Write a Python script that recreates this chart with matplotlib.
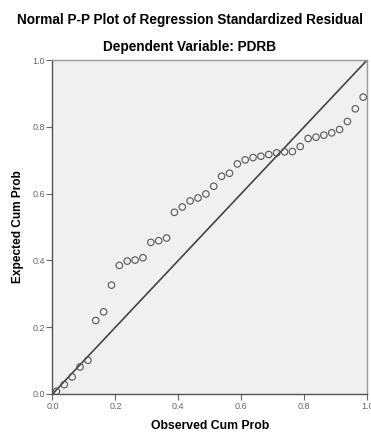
import numpy as np
import matplotlib
matplotlib.use("Agg")
import matplotlib.pyplot as plt

# Normal P-P plot, 40 residuals, observed cum prob = (i - 0.5) / n
n_obs = 40
observed = (np.arange(1, n_obs + 1) - 0.5) / n_obs

expected = [
    0.008, 0.028, 0.051, 0.081, 0.101, 0.220, 0.246, 0.326, 0.385, 0.398,
    0.401, 0.408, 0.454, 0.459, 0.467, 0.544, 0.560, 0.578, 0.587, 0.599,
    0.622, 0.652, 0.661, 0.689, 0.701, 0.708, 0.712, 0.717, 0.722, 0.725,
    0.726, 0.741, 0.765, 0.769, 0.775, 0.782, 0.792, 0.816, 0.854, 0.889,
]

ticks = [0.0, 0.2, 0.4, 0.6, 0.8, 1.0]
tick_labels = ["0.0", "0.2", "0.4", "0.6", "0.8", "1.0"]

plt.rcParams["font.family"] = ["Liberation Sans", "DejaVu Sans"]

fig = plt.figure(figsize=(3.71, 4.32), dpi=100)
ax = fig.add_axes([0.1415, 0.088, 0.848, 0.773])
ax.set_facecolor("#f0f0f0")

ax.plot([0, 1], [0, 1], color="#444444", linewidth=1.2, zorder=2)
ax.scatter(observed, expected, s=22, facecolors="none", edgecolors="#555555",
           linewidths=0.8, zorder=3)

ax.set_xlim(0, 1)
ax.set_ylim(0, 1)
ax.set_xticks(ticks)
ax.set_xticklabels(tick_labels)
ax.set_yticks(ticks)
ax.set_yticklabels(tick_labels)
ax.tick_params(labelsize=6.5, colors="#666666", length=4, width=0.8, pad=1.5)

for side in ["left", "bottom"]:
    ax.spines[side].set_color("#555555")
    ax.spines[side].set_linewidth(1.0)
for side in ["top", "right"]:
    ax.spines[side].set_color("#999999")
    ax.spines[side].set_linewidth(1.0)

ax.set_xlabel("Observed Cum Prob", fontsize=8.8, fontweight="bold", labelpad=6.5)
ax.set_ylabel("Expected Cum Prob", fontsize=8.6, fontweight="bold", labelpad=6)

fig.text(0.512, 0.953, "Normal P-P Plot of Regression Standardized Residual",
         ha="center", va="center", fontsize=9.8, fontweight="bold")
fig.text(0.512, 0.891, "Dependent Variable: PDRB",
         ha="center", va="center", fontsize=9.8, fontweight="bold")

fig.savefig("out.png", dpi=100, facecolor="white")
